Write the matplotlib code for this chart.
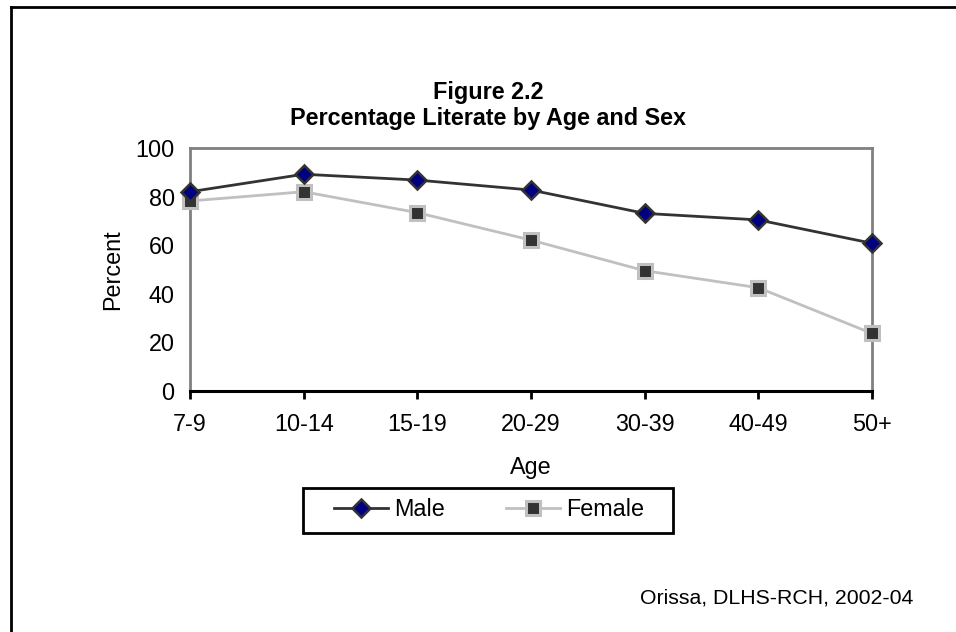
import matplotlib.pyplot as plt
from matplotlib.lines import Line2D
from matplotlib.patches import Rectangle

plt.rcParams['font.family'] = ['Liberation Sans', 'DejaVu Sans']

ages = ['7-9', '10-14', '15-19', '20-29', '30-39', '40-49', '50+']
male = [82.0, 89.2, 86.8, 82.7, 73.1, 70.4, 60.8]
female = [78.2, 82.0, 73.4, 62.1, 49.5, 42.5, 23.7]

W, H = 956, 632
fig = plt.figure(figsize=(W / 100, H / 100), dpi=100)

# plot area in pixel coordinates
left, right, top, bottom = 190, 872, 148, 391
ax = fig.add_axes([left / W, 1 - bottom / H, (right - left) / W, (bottom - top) / H])

fs = 16.8

x = range(len(ages))
male_style = dict(color='#333333', lw=2, marker='D', ms=9.5,
                  mfc='#000080', mec='#333333', mew=1.8)
female_style = dict(color='#c0c0c0', lw=2, marker='s', ms=9.5,
                    mfc='#333333', mec='#c0c0c0', mew=2.2)
ax.plot(x, male, label='Male', zorder=4, clip_on=False, **male_style)
ax.plot(x, female, label='Female', zorder=3, clip_on=False, **female_style)

ax.set_xlim(0, len(ages) - 1)
ax.set_ylim(0, 100)
ax.set_yticks(range(0, 101, 20))
ax.set_xticks(list(x))
ax.set_xticklabels(ages)

for s in ['left', 'top', 'right']:
    ax.spines[s].set_color('#808080')
    ax.spines[s].set_linewidth(2)
ax.spines['bottom'].set_color('black')
ax.spines['bottom'].set_linewidth(2.2)

ax.tick_params(axis='y', length=0, pad=11, labelsize=fs)
ax.tick_params(axis='x', length=6, width=2, direction='out', pad=10,
               labelsize=fs)

ax.set_ylabel('Percent', fontsize=fs, labelpad=8)
ax.set_xlabel('Age', fontsize=fs, labelpad=14)

fig.text(488 / W, 1 - 93 / H, 'Figure 2.2', ha='center', va='center',
         fontsize=fs, fontweight='bold')
fig.text(488 / W, 1 - 118 / H, 'Percentage Literate by Age and Sex',
         ha='center', va='center', fontsize=fs, fontweight='bold')

# legend box drawn separately so it can be wider than its contents
fig.add_artist(Rectangle((303 / W, 1 - 533 / H), 370 / W, 45 / H,
                         transform=fig.transFigure, fill=False,
                         edgecolor='black', lw=2))
handles = [Line2D([], [], **male_style), Line2D([], [], **female_style)]
fig.legend(handles, ['Male', 'Female'], ncol=2,
           loc='center', bbox_to_anchor=(489 / W, 1 - 510 / H),
           frameon=False, fontsize=fs, handlelength=2.3, handletextpad=0.25,
           columnspacing=2.65, borderpad=0, borderaxespad=0)

fig.text(913 / W, 1 - 598 / H, 'Orissa, DLHS-RCH, 2002-04',
         ha='right', va='center', fontsize=15.3)

# outer border: top and left edges
fig.add_artist(Line2D([11 / W, 1], [1 - 7 / H, 1 - 7 / H], color='black',
                      lw=2, transform=fig.transFigure))
fig.add_artist(Line2D([11 / W, 11 / W], [0, 1 - 7 / H], color='black',
                      lw=2, transform=fig.transFigure))

fig.savefig('out.png', dpi=100)
